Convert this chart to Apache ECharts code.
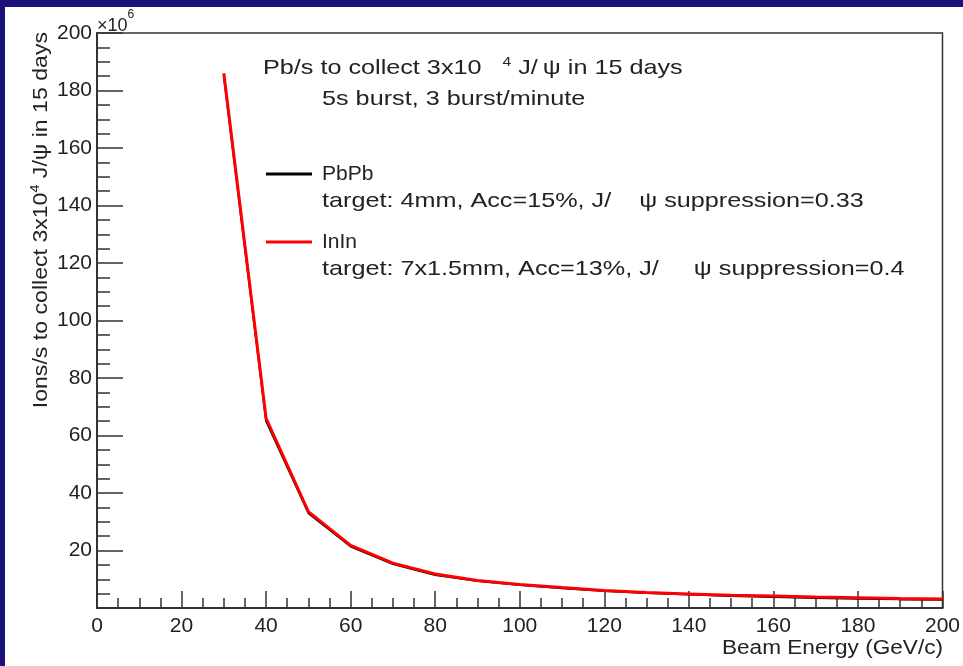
<!DOCTYPE html>
<html>
<head>
<meta charset="utf-8">
<title>Pb/s to collect 3x10^4 J/psi in 15 days</title>
<script src="https://cdn.jsdelivr.net/npm/echarts@6/dist/echarts.min.js"></script>
<style>
  html, body { margin: 0; padding: 0; background: #1a1278; }
  #main { position: absolute; left: 5px; top: 7px; width: 958px; height: 659px; background: #fff; }
</style>
</head>
<body>
<div id="main"></div>
<script type="text/javascript">
// beam energy (GeV/c) and ions/s in units of 1e6
var energy = [30, 40, 50, 60, 70, 80, 90, 100, 110, 120, 130, 140, 150, 160, 170, 180, 190, 200];
var pbPb   = [185, 65, 33.0, 21.4, 15.3, 11.5, 9.4, 8.0, 6.9, 5.9, 5.2, 4.7, 4.2, 3.8, 3.5, 3.2, 3.0, 2.9];
var inIn   = [186, 66, 33.5, 21.8, 15.6, 11.8, 9.6, 8.2, 7.1, 6.1, 5.4, 4.9, 4.4, 4.2, 3.8, 3.6, 3.3, 3.1];

var seriesNames = ['PbPb', 'InIn'];
var seriesColors = ['#000000', '#ff0000'];

var FONT = 'Liberation Sans';

function pairs(xs, ys) {
    return xs.map(function (x, i) { return [x, ys[i]]; });
}

var myChart = echarts.init(document.getElementById('main'));

var option = {
    animation: false,
    grid: {
        left: 92, top: 26, right: 20, bottom: 58,
        show: true, borderColor: '#333', borderWidth: 1.5,
        backgroundColor: 'transparent'
    },
    legend: {
        data: seriesNames,
        orient: 'vertical',
        left: 256, top: 150,
        icon: 'rect',
        itemWidth: 46, itemHeight: 3,
        itemGap: 44,
        textStyle: { fontFamily: FONT, fontSize: 21, color: '#222', lineHeight: 24, padding: [0, 0, 0, 5] }
    },
    xAxis: {
        type: 'value', min: 0, max: 200, interval: 20,
        axisLine: { lineStyle: { color: '#333', width: 2 } },
        axisTick: { inside: true, length: 17, lineStyle: { color: '#333', width: 1.5 } },
        minorTick: { show: true, splitNumber: 4, length: 10, lineStyle: { color: '#333', width: 1.5 } },
        splitLine: { show: false },
        axisLabel: { fontFamily: FONT, fontSize: 21, color: '#222', margin: 8 }
    },
    yAxis: {
        type: 'value', min: 0, max: 200, interval: 20,
        axisLine: { lineStyle: { color: '#333', width: 2 } },
        axisTick: { inside: true, length: 26, lineStyle: { color: '#333', width: 1.5 } },
        minorTick: { show: true, splitNumber: 4, length: 13, lineStyle: { color: '#333', width: 1.5 } },
        splitLine: { show: false },
        axisLabel: {
            fontFamily: FONT, fontSize: 21, color: '#222', margin: 5,
            formatter: function (v) { return v === 0 ? '' : v; }
        }
    },
    graphic: [
        // x10^6 multiplier
        {
            type: 'text', left: 92, top: 2,
            style: {
                text: '{a|×10}{s|6}',
                rich: {
                    a: { fontFamily: FONT, fontSize: 18, fill: '#222', padding: [8, 0, 0, 0] },
                    s: { fontFamily: FONT, fontSize: 12, fill: '#222', verticalAlign: 'top' }
                }
            }
        },
        // y axis title
        {
            type: 'text', x: 36, y: 25, rotation: Math.PI / 2, scaleX: 1.1,
            style: {
                text: '{a|Ions/s to collect 3x10}{s|4}{a| J/ψ in 15 days}',
                align: 'right', verticalAlign: 'middle',
                rich: {
                    a: { fontFamily: FONT, fontSize: 21, fill: '#222' },
                    s: { fontFamily: FONT, fontSize: 13, fill: '#222', padding: [0, 0, 12, 0] }
                }
            }
        },
        // x axis title
        {
            type: 'text', x: 938, y: 641, scaleX: 1.13,
            style: {
                text: 'Beam Energy (GeV/c)', align: 'right', verticalAlign: 'middle',
                fontFamily: FONT, fontSize: 20, fill: '#222'
            }
        },
        // annotation block
        {
            type: 'text', x: 258, y: 61, scaleX: 1.2,
            style: {
                text: '{a|Pb/s to collect 3x10   }{s|4}{a| J/\u2009ψ in 15 days}',
                verticalAlign: 'middle',
                rich: {
                    a: { fontFamily: FONT, fontSize: 21, fill: '#222' },
                    s: { fontFamily: FONT, fontSize: 13, fill: '#222', padding: [0, 0, 12, 0] }
                }
            }
        },
        {
            type: 'text', x: 317, y: 92, scaleX: 1.2,
            style: { text: '5s burst, 3 burst/minute', verticalAlign: 'middle', fontFamily: FONT, fontSize: 21, fill: '#222' }
        },
        {
            type: 'text', x: 317, y: 194, scaleX: 1.2,
            style: { text: 'target: 4mm, Acc=15%, J/    ψ suppression=0.33', verticalAlign: 'middle', fontFamily: FONT, fontSize: 21, fill: '#222' }
        },
        {
            type: 'text', x: 317, y: 262, scaleX: 1.2,
            style: { text: 'target: 7x1.5mm, Acc=13%, J/     ψ suppression=0.4', verticalAlign: 'middle', fontFamily: FONT, fontSize: 21, fill: '#222' }
        }
    ],
    series: [
        {
            name: seriesNames[0], type: 'line', data: pairs(energy, pbPb),
            symbol: 'none', itemStyle: { color: seriesColors[0] },
            lineStyle: { color: seriesColors[0], width: 2 }, z: 2
        },
        {
            name: seriesNames[1], type: 'line', data: pairs(energy, inIn),
            symbol: 'none', itemStyle: { color: seriesColors[1] },
            lineStyle: { color: seriesColors[1], width: 3 }, z: 3
        }
    ]
};

myChart.setOption(option);
</script>
</body>
</html>
